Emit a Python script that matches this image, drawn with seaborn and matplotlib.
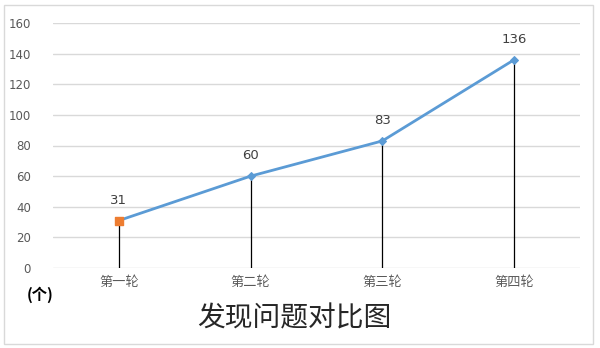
import matplotlib
matplotlib.use("Agg")
import matplotlib.pyplot as plt
import seaborn as sns
import pandas as pd
from matplotlib.patches import Rectangle

categories = ["第一轮", "第二轮", "第三轮", "第四轮"]
values = [31, 60, 83, 136]
yticks = [0, 20, 40, 60, 80, 100, 120, 140, 160]
title = "发现问题对比图"
unit = "(个)"

sns.set_theme(style="white")
plt.rcParams['font.family'] = ['Noto Sans CJK SC', 'DejaVu Sans']

df = pd.DataFrame({"x": range(len(categories)), "v": values})

fig = plt.figure(figsize=(6, 3.48), dpi=100)
ax = fig.add_axes([53/600, 80/348, 527/600, 245/348])

for y in yticks:
    ax.axhline(y, color="#d9d9d9", lw=1, zorder=0)

ax.vlines(df["x"], 0, df["v"], color="black", lw=0.9, zorder=1)
sns.lineplot(data=df, x="x", y="v", ax=ax, color="#5b9bd5", lw=2,
             marker="D", markersize=4, markeredgecolor="#5b9bd5", zorder=2)
ax.scatter([df["x"][0]], [df["v"][0]], marker="s", s=40, color="#ed7d31", zorder=3)

for xi, v in zip(df["x"], df["v"]):
    ax.text(xi, v + 9, str(v), ha="center", va="bottom", fontsize=9.5,
            color="#404040", family="DejaVu Sans")

ax.set_xlim(-0.5, 3.5)
ax.set_ylim(0, 160)
ax.set_yticks(yticks)
ax.set_yticklabels([str(t) for t in yticks], fontsize=8.5, color="#595959", family="DejaVu Sans")
ax.set_xticks(range(len(categories)))
ax.set_xticklabels(categories, fontsize=9.5, color="#595959")
ax.tick_params(axis="x", length=0, pad=6)
ax.tick_params(axis="y", length=0, pad=16)
for s in ax.spines.values():
    s.set_visible(False)
ax.set_xlabel("")
ax.set_ylabel("")

fig.text(40/600, 1 - 295/348, unit, ha="center", va="center", fontsize=11,
         fontweight="bold", color="black")
fig.text(294/600, 1 - 318/348, title, ha="center", va="center", fontsize=20,
         fontweight="light", color="#262626")

fig.patches.append(Rectangle((4/600, 4/348), 589/600, 339/348, transform=fig.transFigure,
                             fill=False, edgecolor="#d9d9d9", lw=1))

fig.savefig("out.png", dpi=100)
